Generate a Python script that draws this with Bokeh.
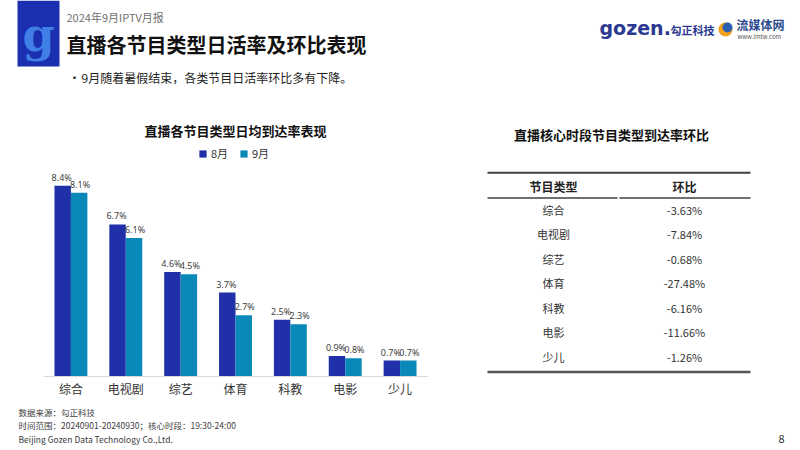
from bokeh.plotting import figure
from bokeh.models import Range1d, FactorRange, ColumnDataSource
from bokeh.transform import dodge
from bokeh.layouts import column, row
from bokeh.embed import file_html
from bokeh.resources import INLINE
from bokeh.core.properties import value

# ---------------- data ----------------
categories = ["综合", "电视剧", "综艺", "体育", "科教", "电影", "少儿"]
aug = [8.4, 6.7, 4.6, 3.7, 2.5, 0.9, 0.7]
sep = [8.1, 6.1, 4.5, 2.7, 2.3, 0.8, 0.7]
series_labels = ["8月", "9月"]
table_header = ["节目类型", "环比"]
table_types = ["综合", "电视剧", "综艺", "体育", "科教", "电影", "少儿"]
table_mom = ["-3.63%", "-7.84%", "-0.68%", "-27.48%", "-6.16%", "-11.66%", "-1.26%"]

CJK = "Noto Sans CJK SC"
C_AUG = "#1f30a8"
C_SEP = "#0a88b8"


def canvas(w, h, x0, x1, y_top, y_bottom):
    p = figure(width=w, height=h, x_range=Range1d(x0, x1), y_range=Range1d(y_bottom, y_top),
               output_backend="svg", toolbar_location=None,
               x_axis_type=None, y_axis_type=None, min_border=0)
    p.outline_line_color = None
    p.background_fill_color = "white"
    p.border_fill_color = "white"
    return p


def txt(p, x, y, s, size, color="#333333", bold=False, align="left", font=CJK, angle=0.0, alpha=1.0):
    p.text(x=[x], y=[y], text=[s], text_font=value(font), text_font_size=size,
           text_color=color, text_font_style="bold" if bold else "normal",
           text_align=align, text_baseline="middle", angle=angle, text_alpha=alpha)


# ---------------- header ----------------
head = canvas(800, 145, 0, 800, 0, 145)
head.quad(left=[17], right=[59], top=[0], bottom=[66], fill_color="#1b30b0", line_color=None)
txt(head, 38, 34, "g", "46px", color="#3f7fe6", bold=True, align="center", font="DejaVu Serif")
txt(head, 66, 16, "2024年9月IPTV月报", "11px", color="#707070")
txt(head, 66, 44, "直播各节目类型日活率及环比表现", "20px", color="#111111", bold=True)
txt(head, 68, 77, "•", "12px", color="#222222")
txt(head, 81, 77, "9月随着暑假结束，各类节目日活率环比多有下降。", "12px", color="#222222")

# top-right logos
txt(head, 599, 27, "gozen.", "19px", color="#2b3990", bold=True, font="DejaVu Sans")
txt(head, 670, 29, "勾正科技", "11px", color="#2b3990", bold=True)
head.circle(x=[725], y=[29], radius=7, fill_color="#f2a01e", line_color=None)
head.circle(x=[727], y=[27], radius=5, fill_color="#2c5fb0", line_color=None)
txt(head, 736, 24, "流媒体网", "12px", color="#2b4a8c", bold=True)
txt(head, 737, 36, "www.lmtw.com", "6px", color="#555555")

# section titles
txt(head, 235, 130, "直播各节目类型日均到达率表现", "13px", color="#111111", bold=True, align="center")
txt(head, 611, 134, "直播核心时段节目类型到达率环比", "13px", color="#111111", bold=True, align="center")

# ---------------- bar chart ----------------
src = ColumnDataSource(dict(
    cat=categories, aug=aug, sep=sep,
    aug_lbl=[f"{v}%" for v in aug], sep_lbl=[f"{v}%" for v in sep],
))
px_per_unit = 22.7
bar = figure(width=440, height=255,
             x_range=FactorRange(*categories, range_padding=0, factor_padding=0),
             y_range=Range1d(0, 231 / px_per_unit),
             output_backend="svg", toolbar_location=None, y_axis_location=None,
             min_border_left=43, min_border_right=13, min_border_top=0, min_border_bottom=24)
bar.outline_line_color = None
bar.grid.visible = False
bar.vbar(x=dodge("cat", -0.15, range=bar.x_range), top="aug", width=0.3, source=src,
         fill_color=C_AUG, line_color=None, legend_label=series_labels[0])
bar.vbar(x=dodge("cat", 0.15, range=bar.x_range), top="sep", width=0.3, source=src,
         fill_color=C_SEP, line_color=None, legend_label=series_labels[1])
for col, lbl, off, xo in (("aug", "aug_lbl", -0.15, -1), ("sep", "sep_lbl", 0.15, 1)):
    bar.text(x=dodge("cat", off, range=bar.x_range), y=col, text=lbl, source=src,
             x_offset=xo, y_offset=-2, text_align="center", text_baseline="bottom",
             text_font=value("Noto Sans"), text_font_size="9px", text_color="#404040")
ax = bar.xaxis[0]
ax.axis_line_color = "#d9d9d9"
ax.major_tick_line_color = None
ax.minor_tick_line_color = None
ax.major_tick_out = 0
ax.major_tick_in = 0
ax.minor_tick_out = 0
ax.minor_tick_in = 0
ax.major_label_standoff = 3
ax.major_label_text_font = CJK
ax.major_label_text_font_size = "12px"
ax.major_label_text_color = "#333333"
lg = bar.legend[0]
lg.location = "top_center"
lg.orientation = "horizontal"
lg.margin = 0
lg.padding = 2
lg.spacing = 8
lg.label_standoff = 4
lg.glyph_width = 9
lg.glyph_height = 9
lg.border_line_color = None
lg.background_fill_alpha = 0
lg.label_text_font = CJK
lg.label_text_font_size = "11px"
lg.label_text_color = "#333333"

# ---------------- table ----------------
tab = canvas(360, 255, 440, 800, 145, 400)
tx0, tx1, tmid = 487, 750, 618
cx = [553, 684]
tab.segment(x0=[tx0], x1=[tx1], y0=[175], y1=[175], line_color="#404040", line_width=2)
for x, h in zip(cx, table_header):
    txt(tab, x, 190, h, "12px", color="#222222", bold=True, align="center")
tab.segment(x0=[tx0, tmid + 1], x1=[tmid - 1, tx1], y0=[203, 203], y1=[203, 203],
            line_color="#404040", line_width=1.5)
for i, (t, m) in enumerate(zip(table_types, table_mom)):
    y = 216 + 27 * i
    txt(tab, cx[0], y, t, "11px", color="#333333", align="center")
    txt(tab, cx[1], y, m, "11px", color="#333333", align="center")
tab.segment(x0=[tx0], x1=[tx1], y0=[395], y1=[395], line_color="#555555", line_width=2.5)

# ---------------- footer ----------------
foot = canvas(800, 50, 0, 800, 400, 450)
txt(foot, 18, 411, "数据来源：勾正科技", "8.5px", color="#404040")
txt(foot, 18, 424, "时间范围：20240901-20240930；核心时段：19:30-24:00", "8.5px", color="#404040")
txt(foot, 18, 438, "Beijing Gozen Data Technology Co.,Ltd.", "8.5px", color="#404040")
txt(foot, 778, 438, "8", "11px", color="#333333")

layout = column(head, row(bar, tab), foot)
open("out.html", "w").write(file_html(layout, INLINE))
